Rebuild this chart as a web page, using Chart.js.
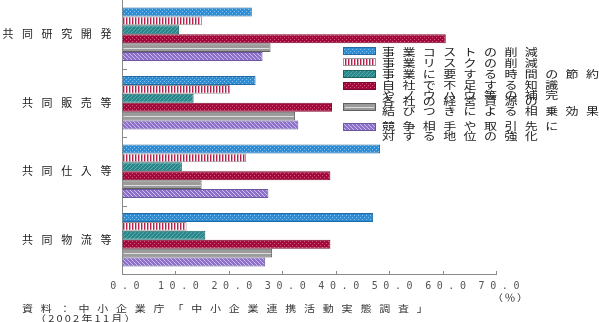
<!DOCTYPE html>
<html>
<head>
<meta charset="utf-8">
<script src="https://cdn.jsdelivr.net/npm/chart.js@4.4.0/dist/chart.umd.min.js"></script>
<style>
  html, body { margin: 0; padding: 0; background: #fff; }
  canvas { display: block; }
</style>
</head>
<body>
<canvas id="chart" width="599" height="322"></canvas>
<script>
// 連携の形態
const categories = ["共同研究開発", "共同販売等", "共同仕入等", "共同物流等"];

// 連携の目的 (凡例、2行ラベルは配列)
const seriesNames = [
  ["事業コストの削減"],
  ["事業リスクの削減"],
  ["事業に要する時間の節約"],
  ["自社で不足する知識", "やノウハウ等の補完"],
  ["各社の経営資源の", "結びつきによる相乗効果"],
  ["競争相手や取引先に", "対する地位の強化"]
];

// 回答割合 (%)
const costCut   = [24.3, 25.0, 48.3, 47.0];
const riskCut   = [15.0, 20.2, 23.2, 12.1];
const timeSave  = [10.7, 13.4, 11.2, 15.6];
const knowhow   = [60.6, 39.3, 39.0, 39.0];
const synergy   = [27.8, 32.4, 14.9, 28.1];
const standing  = [26.3, 33.0, 27.4, 26.8];

const xTickValues = [0, 10, 20, 30, 40, 50, 60, 70];
const unitLabel = "（％）";
const sourceLines = ["資料：中小企業庁「中小企業連携活動実態調査」", "（2002年11月）"];

const FONT = "'Noto Sans CJK JP', 'Noto Sans', sans-serif";

function makePattern(w, h, base, dots, color) {
  const c = document.createElement("canvas");
  c.width = w; c.height = h;
  const g = c.getContext("2d");
  g.fillStyle = base;
  g.fillRect(0, 0, w, h);
  dots.forEach(([x, y, col]) => {
    g.fillStyle = col || color;
    g.fillRect(x, y, 1, 1);
  });
  return g.createPattern(c, "repeat");
}

const fills = [
  makePattern(4, 4, "#2f8dd4", [[0, 1], [2, 3]], "#86c1ea"),
  makePattern(3, 1, "#ffffff", [[0, 0], [1, 0, "#e3a0b3"]], "#b0234d"),
  makePattern(4, 4, "#2a878b", [[3, 0], [2, 1], [1, 2], [0, 3]], "#58aaab"),
  makePattern(4, 4, "#a3093b", [[0, 1], [2, 3]], "#d25a7e"),
  "#9b9b9b",
  makePattern(4, 4, "#8d71c8", [[0, 0], [1, 1], [2, 2], [3, 3]], "#cbbbec")
];
const borders = ["#1f69a6", "#9a9a9a", "#1c6365", "#7a0a2c", "#5f5f5f", "#6a56a2"];
const values = [costCut, riskCut, timeSave, knowhow, synergy, standing];

// 目盛りラベルに字間を付ける
function spaced(scale, spacing) {
  if (scale._spaced) return;
  const orig = scale.drawLabels.bind(scale);
  scale.drawLabels = function (area) {
    const ctx = this.ctx;
    ctx.save();
    ctx.letterSpacing = spacing;
    orig(area);
    ctx.restore();
  };
  scale._spaced = true;
}

// 一文字ずつ、少し縦につぶして描く
function textWidth(ctx, text, gap) {
  let w = 0;
  for (const ch of text) w += ctx.measureText(ch).width + gap;
  return w - gap;
}
function spacedText(ctx, text, x, y, gap, squash) {
  for (const ch of text) {
    ctx.save();
    ctx.translate(x, y);
    ctx.scale(1, squash);
    ctx.fillText(ch, 0, 0);
    ctx.restore();
    x += ctx.measureText(ch).width + gap;
  }
}

const extras = {
  id: "extras",
  beforeDraw(chart) {
    spaced(chart.scales.y, "8.6px");
  },
  afterDatasetsDraw(chart) {
    const ctx = chart.ctx;
    // 灰色の棒の中央線
    ctx.save();
    ctx.strokeStyle = "#dedede";
    ctx.lineWidth = 1;
    chart.getDatasetMeta(4).data.forEach(bar => {
      const y = Math.round(bar.y) + 0.5;
      ctx.beginPath();
      ctx.moveTo(bar.base + 1, y);
      ctx.lineTo(bar.x - 1, y);
      ctx.stroke();
    });
    ctx.restore();
  },
  afterDraw(chart) {
    const ctx = chart.ctx;
    const xs = chart.scales.x, ys = chart.scales.y;
    const area = chart.chartArea;
    ctx.save();
    ctx.letterSpacing = "0px";
    ctx.strokeStyle = "#8a8a8a";
    ctx.lineWidth = 1;
    // 内向きの目盛り
    xTickValues.forEach(v => {
      const px = Math.round(xs.getPixelForValue(v)) + 0.5;
      ctx.beginPath();
      ctx.moveTo(px, area.bottom);
      ctx.lineTo(px, area.bottom - 3);
      ctx.stroke();
    });
    for (let i = 1; i < categories.length; i++) {
      const py = Math.round((ys.getPixelForValue(i - 1) + ys.getPixelForValue(i)) / 2) + 0.5;
      ctx.beginPath();
      ctx.moveTo(area.left, py);
      ctx.lineTo(area.left + 5, py);
      ctx.stroke();
    }

    ctx.textBaseline = "middle";
    ctx.textAlign = "left";

    // x軸の目盛りラベル
    ctx.fillStyle = "#555";
    ctx.font = "10px 'DejaVu Sans Mono', monospace";
    xs.ticks.forEach(t => {
      const label = t.value.toFixed(1);
      const w = textWidth(ctx, label, 5.6);
      spacedText(ctx, label, xs.getPixelForValue(t.value) + 3 - w / 2, 286, 5.6, 1);
    });

    // 凡例
    const boxY = [51, 62, 73.5, 86, 106.5, 127];
    const textY = [[52], [63], [74], [85, 95], [101, 111], [126, 136]];
    ctx.font = "13px " + FONT;
    chart.data.datasets.forEach((ds, i) => {
      const top = Math.round(boxY[i] - 4);
      ctx.fillStyle = ds.backgroundColor;
      ctx.fillRect(343, top, 33, 8);
      ctx.strokeStyle = ds.borderColor;
      ctx.strokeRect(343.5, top + 0.5, 32, 7);
      if (i === 4) {
        ctx.strokeStyle = "#dedede";
        ctx.beginPath();
        ctx.moveTo(345, top + 4.5);
        ctx.lineTo(374, top + 4.5);
        ctx.stroke();
      }
      ctx.fillStyle = "#222";
      seriesNames[i].forEach((line, k) => spacedText(ctx, line, 382, textY[i][k], 7.4, 0.8));
    });

    // 単位と出所
    ctx.fillStyle = "#333";
    ctx.font = "11px " + FONT;
    spacedText(ctx, unitLabel, 492, 297, 1.5, 0.85);
    spacedText(ctx, sourceLines[0], 22, 308, 7.8, 0.85);
    spacedText(ctx, sourceLines[1], 35, 318, 2.2, 0.85);
    ctx.restore();
  }
};

new Chart(document.getElementById("chart"), {
  type: "bar",
  data: {
    labels: categories,
    datasets: values.map((v, i) => ({
      label: seriesNames[i].join(""),
      data: v,
      backgroundColor: fills[i],
      borderColor: borders[i],
      borderWidth: 1,
      categoryPercentage: 0.78,
      barPercentage: 1.0
    }))
  },
  options: {
    indexAxis: "y",
    responsive: false,
    animation: false,
    layout: { padding: { top: -2, right: 103, bottom: 0, left: 0 } },
    plugins: {
      legend: { display: false },
      tooltip: { enabled: false }
    },
    scales: {
      x: {
        min: 0,
        max: 70,
        afterFit: s => { s.height = 48; },
        afterBuildTicks: s => { s.ticks = xTickValues.map(v => ({ value: v })); },
        grid: { drawOnChartArea: false, drawTicks: false },
        border: { color: "#8a8a8a" },
        ticks: { display: false }
      },
      y: {
        afterFit: s => { s.width = 122; s.paddingTop = -2; s.paddingBottom = 0; },
        grid: { drawOnChartArea: false, drawTicks: false },
        border: { color: "#8a8a8a" },
        ticks: {
          font: { family: FONT, size: 11 },
          color: "#222",
          padding: 2
        }
      }
    }
  },
  plugins: [extras]
});
</script>
</body>
</html>
